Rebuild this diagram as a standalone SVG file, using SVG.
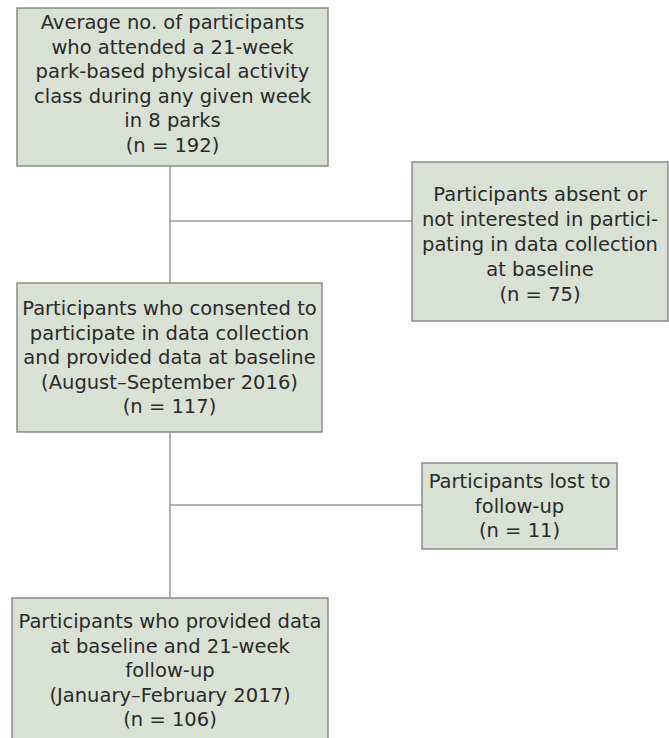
<svg xmlns="http://www.w3.org/2000/svg" width="669" height="738" viewBox="0 0 669 738">
<style>
.box{fill:#d9e1d5;stroke:#8a8a8a;stroke-width:1.5}
.t{font-family:"DejaVu Sans",Verdana,sans-serif;font-size:19.5px;fill:#2a2a2a;text-anchor:middle}
.c{stroke:#9a9a9a;stroke-width:1.5;fill:none}
</style>
<rect width="669" height="738" fill="#ffffff"/>
<g id="connectors">
<line class="c" x1="170" y1="166" x2="170" y2="283"/>
<line class="c" x1="170" y1="221" x2="412" y2="221"/>
<line class="c" x1="170" y1="432" x2="170" y2="598"/>
<line class="c" x1="170" y1="505" x2="422" y2="505"/>
</g>
<g id="n1">
<rect class="box" x="17" y="8" width="311" height="158"/>
<text class="t"><tspan x="172.5" y="29">Average no. of participants</tspan><tspan x="172.5" y="53.5">who attended a 21-week</tspan><tspan x="172.5" y="78">park-based physical activity</tspan><tspan x="172.5" y="102.5">class during any given week</tspan><tspan x="172.5" y="127">in 8 parks</tspan><tspan x="172.5" y="151.5">(n = 192)</tspan></text>
</g>
<g id="n2">
<rect class="box" x="412" y="162" width="256" height="159"/>
<text class="t"><tspan x="540" y="200.5">Participants absent or</tspan><tspan x="540" y="225.5">not interested in partici-</tspan><tspan x="540" y="250.5">pating in data collection</tspan><tspan x="540" y="275.5">at baseline</tspan><tspan x="540" y="300.5">(n = 75)</tspan></text>
</g>
<g id="n3">
<rect class="box" x="17" y="283" width="305" height="149"/>
<text class="t"><tspan x="169.5" y="315">Participants who consented to</tspan><tspan x="169.5" y="339.5">participate in data collection</tspan><tspan x="169.5" y="364">and provided data at baseline</tspan><tspan x="169.5" y="388.5">(August–September 2016)</tspan><tspan x="169.5" y="413">(n = 117)</tspan></text>
</g>
<g id="n4">
<rect class="box" x="422" y="463" width="195" height="86"/>
<text class="t"><tspan x="519.5" y="488">Participants lost to</tspan><tspan x="519.5" y="512.5">follow-up</tspan><tspan x="519.5" y="537">(n = 11)</tspan></text>
</g>
<g id="n5">
<rect class="box" x="12" y="598" width="316" height="150"/>
<text class="t"><tspan x="170" y="628">Participants who provided data</tspan><tspan x="170" y="652.5">at baseline and 21-week</tspan><tspan x="170" y="677">follow-up</tspan><tspan x="170" y="701.5">(January–February 2017)</tspan><tspan x="170" y="726">(n = 106)</tspan></text>
</g>
</svg>
